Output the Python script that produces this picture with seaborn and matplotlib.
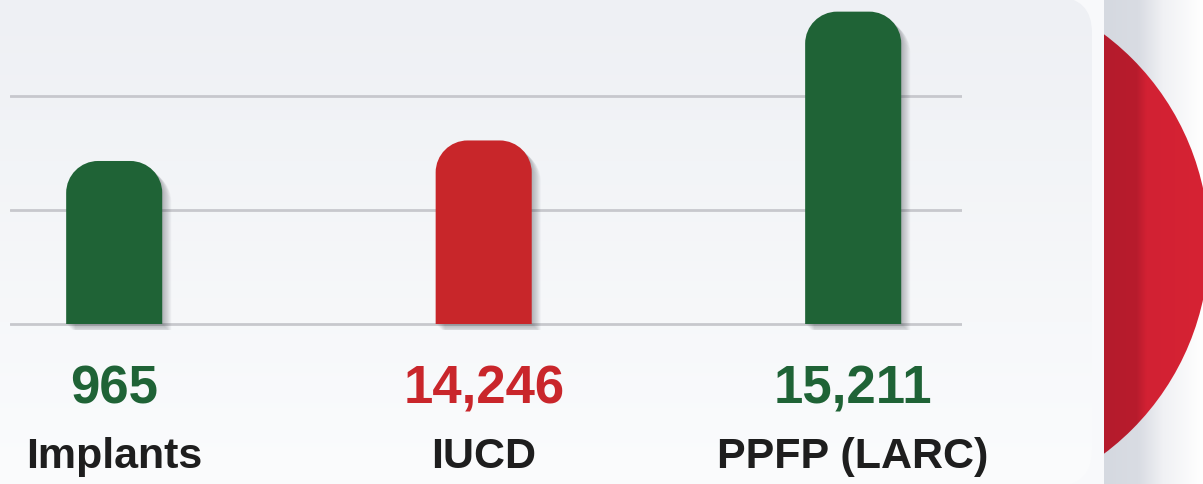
import numpy as np
import matplotlib
matplotlib.use("Agg")
import matplotlib.pyplot as plt
import seaborn as sns
from matplotlib.path import Path
from matplotlib.patches import PathPatch, FancyBboxPatch, Circle
from matplotlib.colors import LinearSegmentedColormap
from matplotlib.transforms import offset_copy

# data
categories = ["Implants", "IUCD", "PPFP (LARC)"]
value_labels = ["965", "14,246", "15,211"]
bar_heights = [1.43, 1.61, 2.74]      # visual height of each column (grid units)
bar_colors = ["#1f6336", "#c8262a", "#1f6336"]
label_colors = ["#1f6336", "#c9262b", "#1f6336"]

W, H = 1203, 485
sns.set_theme(style="white")
plt.rcParams["font.family"] = ["Liberation Sans", "DejaVu Sans"]

fig = plt.figure(figsize=(W / 100, H / 100), dpi=100)
fig.patch.set_facecolor("#f8f9fb")

# background layer in pixel coords
bg = fig.add_axes([0, 0, 1, 1], zorder=0)
bg.set_xlim(0, W)
bg.set_ylim(H, 0)
bg.axis("off")

# right side grey shade
shade = LinearSegmentedColormap.from_list(
    "shade", [(0, "#d5d9e0"), (0.35, "#d9dce3"), (0.6, "#f0f1f4"), (1, "#ffffff")])
bg.imshow(np.linspace(0, 1, 200)[None, :], cmap=shade, aspect="auto",
          extent=[1104, W, H, 0], zorder=1)

# red half disc
reds = LinearSegmentedColormap.from_list(
    "reds", [(0, "#b51b2c"), (0.33, "#b81c2d"), (0.43, "#d22133"), (1, "#d62334")])
im = bg.imshow(np.linspace(0, 1, 200)[None, :], cmap=reds, aspect="auto",
               extent=[1104, W, H, 0], zorder=2)
disc = Circle((947, 245), 262, transform=bg.transData)
im.set_clip_path(disc)

# light panel with rounded right corners
panel_cmap = LinearSegmentedColormap.from_list("panel", ["#eef0f4", "#fbfcfd"])
pim = bg.imshow(np.linspace(0, 1, 200)[:, None], cmap=panel_cmap, aspect="auto",
                extent=[0, 1092, H + 2, -2], zorder=3)
panel = FancyBboxPatch((-60, -2), 1152, H + 4,
                       boxstyle="round,pad=0,rounding_size=36",
                       transform=bg.transData)
pim.set_clip_path(panel)

# bar axes
ax_bottom = 331
ax = fig.add_axes([10 / W, (H - ax_bottom) / H, 952 / W, ax_bottom / H], zorder=2)
ax.patch.set_alpha(0)
px_unit = 114.0
ax.set_ylim(-(ax_bottom - 325) / px_unit, 325 / px_unit)

sns.barplot(x=categories, y=bar_heights, hue=categories, palette=bar_colors,
            legend=False, width=0.26, ax=ax, saturation=1)
ax.set_xlim(-0.282, 2.2945)

ax.set_yticks([0, 1, 2])
ax.grid(axis="y", color="#c7c8cd", linewidth=2)
ax.set_axisbelow(True)
ax.set_xticks([])
ax.set_yticklabels([])
ax.tick_params(left=False, bottom=False)
sns.despine(ax=ax, left=True, bottom=True)
ax.set_xlabel("")
ax.set_ylabel("")

# rounded tops
fig.canvas.draw()
sx = (ax.get_xlim()[1] - ax.get_xlim()[0]) / 952
sy = 1 / px_unit
r = 32


def rounded_path(x0, w, h):
    rx, ry = r * sx, r * sy
    k = 0.5523
    x1 = x0 + w
    verts = [(x0, 0), (x0, h - ry),
             (x0, h - ry + k * ry), (x0 + rx - k * rx, h), (x0 + rx, h),
             (x1 - rx, h),
             (x1 - rx + k * rx, h), (x1, h - ry + k * ry), (x1, h - ry),
             (x1, 0), (x0, 0)]
    codes = [Path.MOVETO, Path.LINETO,
             Path.CURVE4, Path.CURVE4, Path.CURVE4,
             Path.LINETO,
             Path.CURVE4, Path.CURVE4, Path.CURVE4,
             Path.LINETO, Path.CLOSEPOLY]
    return Path(verts, codes)


for p, col in zip(list(ax.patches), bar_colors):
    x0, w, h = p.get_x(), p.get_width(), p.get_height()
    p.remove()
    path = rounded_path(x0, w, h)
    for i in range(1, 11):
        sh = PathPatch(path, facecolor="#3a3d45", edgecolor="none", alpha=0.04,
                       transform=offset_copy(ax.transData, fig=fig, x=i * 0.9,
                                             y=-i * 0.9, units="dots"),
                       zorder=2)
        ax.add_patch(sh)
    ax.add_patch(PathPatch(path, facecolor=col, edgecolor="none", zorder=3))

# labels under bars
xt = ax.get_xaxis_transform()
for i, (v, c, lc) in enumerate(zip(value_labels, categories, label_colors)):
    ax.text(i, (ax_bottom - 404) / ax_bottom, v, transform=xt, ha="center",
            va="baseline", fontsize=38, fontweight="bold", color=lc, clip_on=False)
    ax.text(i, (ax_bottom - 468) / ax_bottom, c, transform=xt, ha="center",
            va="baseline", fontsize=31, fontweight="bold", color="#1e1e1e",
            clip_on=False)

plt.savefig("out.png", dpi=100, facecolor=fig.get_facecolor())
